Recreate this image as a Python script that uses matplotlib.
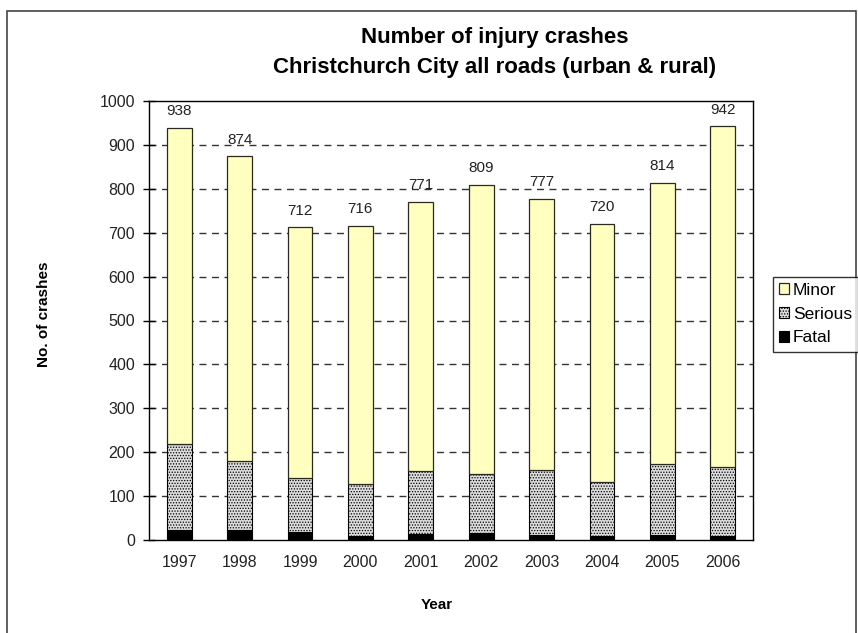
import matplotlib
matplotlib.use("Agg")
import matplotlib.pyplot as plt
from matplotlib.patches import Rectangle
import numpy as np

plt.rcParams['font.family'] = ['Liberation Sans', 'DejaVu Sans']
plt.rcParams['hatch.linewidth'] = 0.6

years = ['1997', '1998', '1999', '2000', '2001', '2002', '2003', '2004', '2005', '2006']
totals = [938, 874, 712, 716, 771, 809, 777, 720, 814, 942]
fatal = [22, 22, 18, 9, 13, 15, 12, 10, 11, 9]
serious = [196, 159, 123, 119, 144, 135, 148, 122, 163, 157]
minor = [t - f - s for t, f, s in zip(totals, fatal, serious)]

fig = plt.figure(figsize=(8.58, 6.33), dpi=100)
ax = fig.add_axes([149 / 858, 1 - 540 / 633, 604 / 858, 439 / 633])

x = np.arange(len(years))
w = 0.41
b_fatal = ax.bar(x, fatal, w, color='black', edgecolor='black', lw=0.8,
                 label='Fatal', zorder=3)
b_serious = ax.bar(x, serious, w, bottom=fatal, color='#dcdcdc',
                   edgecolor='black', hatch='......', lw=0.8,
                   label='Serious', zorder=3)
bottom2 = [f + s for f, s in zip(fatal, serious)]
b_minor = ax.bar(x, minor, w, bottom=bottom2, color='#ffffc0',
                 edgecolor='#2a2a20', lw=0.9, label='Minor', zorder=3)

for xi, t in zip(x, totals):
    ax.annotate(str(t), (xi, t), xytext=(0, 7), textcoords='offset points',
                ha='center', va='bottom', fontsize=11, color='#222222',
                zorder=4)

ax.set_xlim(-0.5, len(years) - 0.5)
ax.set_ylim(0, 1000)
ax.set_yticks(range(0, 1001, 100))
ax.set_xticks(x)
ax.set_xticklabels(years)
ax.tick_params(axis='y', direction='inout', length=8, width=1,
               labelsize=11.5, labelcolor='#222222', pad=6)
ax.tick_params(axis='x', length=0, labelsize=11.5, labelcolor='#222222', pad=11)

for v in range(100, 1000, 100):
    ax.axhline(v, color='#333333', lw=1, ls=(0, (5, 4)), zorder=1)

for s in ax.spines.values():
    s.set_linewidth(1)
    s.set_color('black')

fig.text(437 / 858, 1 - 605 / 633, 'Year', fontsize=11, fontweight='bold',
         ha='center', va='center')
fig.text(44 / 858, 1 - 314 / 633, 'No. of crashes', rotation=90,
         fontsize=11, fontweight='bold', ha='center', va='center')

fig.text(495 / 858, 1 - 38 / 633, 'Number of injury crashes',
         fontsize=16, fontweight='bold', ha='center', va='center')
fig.text(495 / 858, 1 - 68 / 633, 'Christchurch City all roads (urban & rural)',
         fontsize=16, fontweight='bold', ha='center', va='center')

leg = fig.legend(handles=[b_minor, b_serious, b_fatal],
                 labels=['Minor', 'Serious', 'Fatal'],
                 loc='upper left', bbox_to_anchor=(773 / 858, 1 - 277 / 633),
                 fontsize=12.5, frameon=True, fancybox=False, borderpad=0.35,
                 handlelength=0.6, handleheight=0.6, handletextpad=0.2,
                 labelspacing=0.5, borderaxespad=0)
leg.get_frame().set_edgecolor('black')
leg.get_frame().set_linewidth(1)

# outer chart border
fig.patches.append(Rectangle((7 / 858, -0.05), 849 / 858, 1.05 - 11 / 633,
                             transform=fig.transFigure, fill=False,
                             edgecolor='#444444', lw=1.2))

fig.savefig('out.png', dpi=100)
